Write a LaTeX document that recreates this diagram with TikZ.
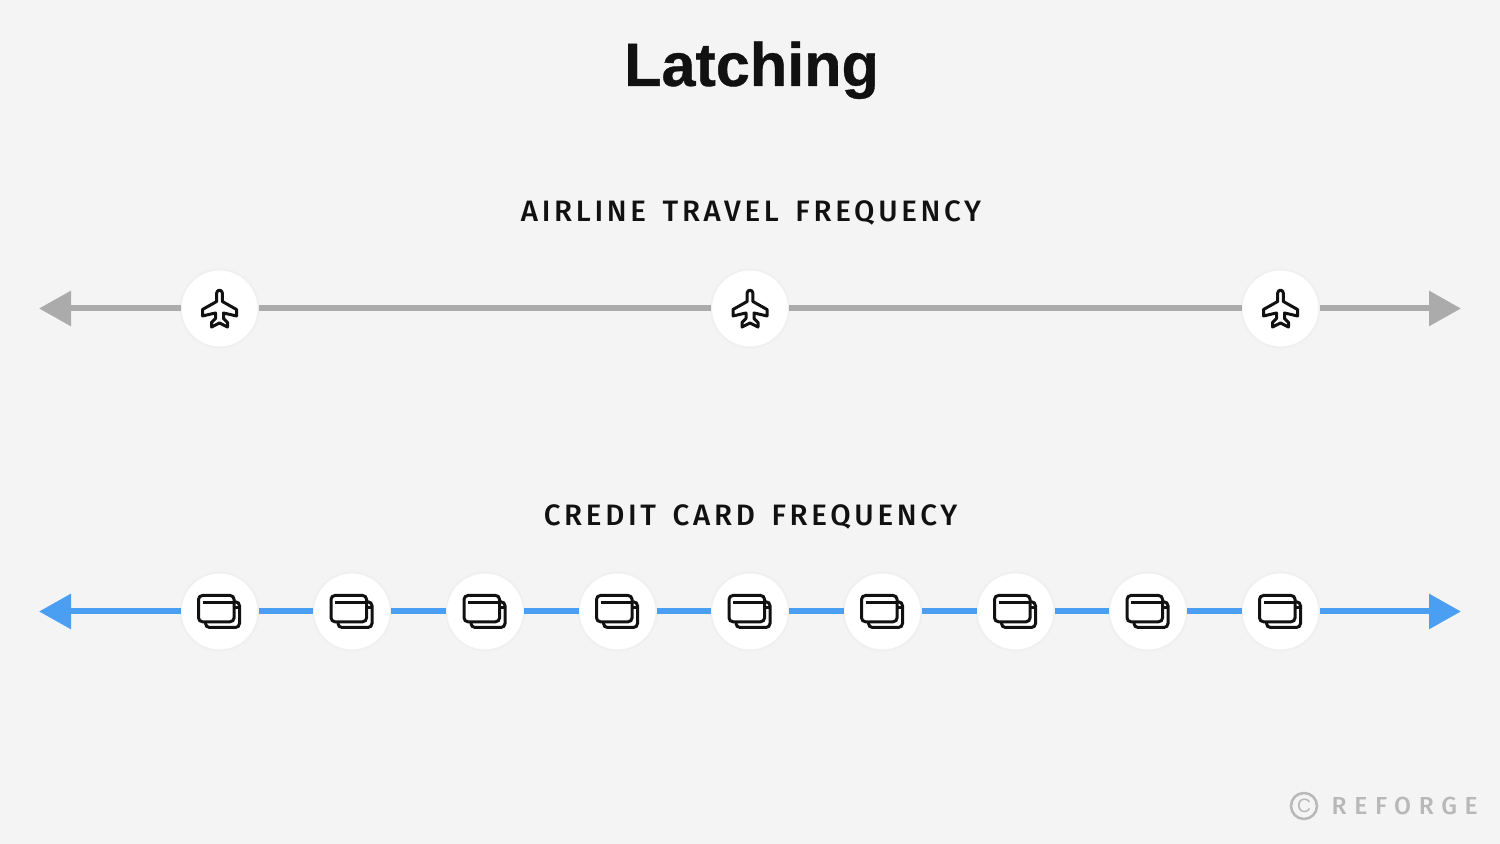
\documentclass[tikz,border=0pt]{standalone}
\usepackage{fontspec}
\usepackage{tikz}
\usetikzlibrary{arrows.meta}
\setmainfont{Liberation Sans}
\newfontfamily\titlefont[FakeBold=0.6]{Liberation Sans Bold}
\newfontfamily\labelfont[LetterSpace=12.5,WordSpace=1.5]{Fira Sans Medium}
\newfontfamily\brandfont[LetterSpace=31]{Fira Sans Medium}
\definecolor{pagegray}{HTML}{F4F4F4}
\definecolor{linegray}{HTML}{ABABAB}
\definecolor{lineblue}{HTML}{4B9FF3}
\definecolor{inkblack}{HTML}{111111}
\definecolor{brandgray}{HTML}{B8B8B8}
\definecolor{ringgray}{HTML}{F0F0F0}
\tikzset{
  stopnode/.style={draw=ringgray,line width=0.02cm,fill=white,circle,outer sep=0pt,minimum size=0.78cm,inner sep=0pt},
  grayline/.style={draw=linegray,line width=0.06cm},
  blueline/.style={draw=lineblue,line width=0.06cm},
  grayend/.style={grayline,-{Triangle[length=0.32cm,width=0.34cm,fill=linegray]}},
  blueend/.style={blueline,-{Triangle[length=0.32cm,width=0.34cm,fill=lineblue]}},
  planeicon/.pic={
    \draw[inkblack,line width=0.03cm,line join=round]
      (-0.028,0.07) -- (-0.028,0.155) arc (180:0:0.028) -- (0.028,0.07)
      -- (0.17,-0.01) -- (0.17,-0.075) -- (0.04,-0.045) -- (0.04,-0.10)
      -- (0.08,-0.14) -- (0.08,-0.185) -- (0,-0.145) -- (-0.08,-0.185)
      -- (-0.08,-0.14) -- (-0.04,-0.10) -- (-0.04,-0.045) -- (-0.17,-0.075)
      -- (-0.17,-0.01) -- cycle;
  },
  cardicon/.pic={
    \draw[inkblack,line width=0.03cm,rounded corners=0.04cm]
      (-0.21,-0.103) rectangle (0.146,0.16);
    \draw[inkblack,line width=0.03cm] (-0.17,0.093) -- (0.146,0.093);
    \draw[inkblack,line width=0.03cm,rounded corners=0.04cm]
      (0.146,0.097) -- (0.20,0.097) -- (0.20,-0.16) -- (-0.14,-0.16) -- (-0.14,-0.103);
    \draw[inkblack,line width=0.03cm] (0.146,0.037) -- (0.20,0.037);
  },
}

\begin{document}
\begin{tikzpicture}
  \useasboundingbox (0,0) rectangle (15,8.44);
  \fill[pagegray] (0,0) rectangle (15,8.44);

  \node(title)[anchor=base,text=inkblack,font=\fontsize{17.4}{20}\titlefont] at (7.515,7.58) {Latching};
  \node(airline)[text=inkblack,font=\fontsize{8.4}{10}\labelfont] at (7.51,6.31) {AIRLINE TRAVEL FREQUENCY};
  \node(credit)[text=inkblack,font=\fontsize{8.4}{10}\labelfont] at (7.505,3.27) {CREDIT CARD FREQUENCY};

  \coordinate(gl) at (0.39,5.355);
  \coordinate(gr) at (14.61,5.355);
  \node(p1)[stopnode] at (2.195,5.355) {};
  \node(p2)[stopnode] at (7.5,5.355) {};
  \node(p3)[stopnode] at (12.805,5.355) {};

  \draw[grayend] (p1.180) -- (gl);
  \draw[grayline] (p1.0) -- (p2.180);
  \draw[grayline] (p2.0) -- (p3.180);
  \draw[grayend] (p3.0) -- (gr);

  \pic at (p1) {planeicon};
  \pic at (p2) {planeicon};
  \pic at (p3) {planeicon};

  \coordinate(bl) at (0.39,2.325);
  \coordinate(br) at (14.61,2.325);
  \node(c1)[stopnode] at (2.195,2.325) {};
  \node(c2)[stopnode] at (3.52,2.325) {};
  \node(c3)[stopnode] at (4.85,2.325) {};
  \node(c4)[stopnode] at (6.175,2.325) {};
  \node(c5)[stopnode] at (7.5,2.325) {};
  \node(c6)[stopnode] at (8.825,2.325) {};
  \node(c7)[stopnode] at (10.155,2.325) {};
  \node(c8)[stopnode] at (11.48,2.325) {};
  \node(c9)[stopnode] at (12.805,2.325) {};

  \draw[blueend] (c1.180) -- (bl);
  \draw[blueline] (c1.0) -- (c2.180);
  \draw[blueline] (c2.0) -- (c3.180);
  \draw[blueline] (c3.0) -- (c4.180);
  \draw[blueline] (c4.0) -- (c5.180);
  \draw[blueline] (c5.0) -- (c6.180);
  \draw[blueline] (c6.0) -- (c7.180);
  \draw[blueline] (c7.0) -- (c8.180);
  \draw[blueline] (c8.0) -- (c9.180);
  \draw[blueend] (c9.0) -- (br);

  \pic at (c1) {cardicon};
  \pic at (c2) {cardicon};
  \pic at (c3) {cardicon};
  \pic at (c4) {cardicon};
  \pic at (c5) {cardicon};
  \pic at (c6) {cardicon};
  \pic at (c7) {cardicon};
  \pic at (c8) {cardicon};
  \pic at (c9) {cardicon};

  \node(copy)[draw=brandgray,line width=0.025cm,circle,minimum size=0.26cm,inner sep=0pt,text=brandgray,font=\fontsize{5.5}{6}\selectfont] at (13.04,0.38) {C};
  \node(brand)[anchor=west,inner sep=0pt,text=brandgray,font=\fontsize{7}{8}\brandfont] at (13.31,0.38) {REFORGE};
\end{tikzpicture}
\end{document}
